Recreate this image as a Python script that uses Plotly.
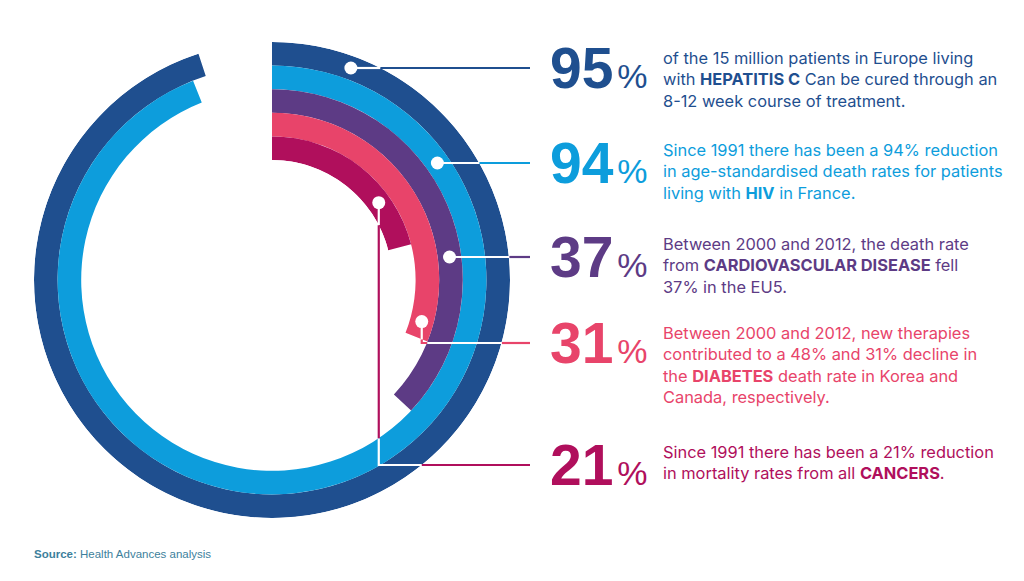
import math
import plotly.graph_objects as go

# ---------------- data (top to bottom / outer to inner) ----------------
labels = ["95", "94", "37", "31", "21"]
values = [95, 94, 37, 31, 21]
colors = ["#1f4f8f", "#0d9ddc", "#5d3b85", "#e8446a", "#b00f5c"]
descriptions = [
    "of the 15 million patients in Europe living<br>with <b>HEPATITIS C</b> Can be cured through an<br>8-12 week course of treatment.",
    "Since 1991 there has been a 94% reduction<br>in age-standardised death rates for patients<br>living with <b>HIV</b> in France.",
    "Between 2000 and 2012, the death rate<br>from <b>CARDIOVASCULAR DISEASE</b> fell<br>37% in the EU5.",
    "Between 2000 and 2012, new therapies<br>contributed to a 48% and 31% decline in<br>the <b>DIABETES</b> death rate in Korea and<br>Canada, respectively.",
    "Since 1991 there has been a 21% reduction<br>in mortality rates from all <b>CANCERS</b>.",
]
source_text = "<b>Source:</b> Health Advances analysis"

# ---------------- layout geometry (pixels) ----------------
W, H = 1024, 581
CX, CY = 272, 280          # ring centre
R_OUT, R_IN = 238, 120     # outer radius, hole radius
N = len(values)
T = (R_OUT - R_IN) / N     # ring thickness
label_y = [68, 163, 257, 343, 465]     # vertical centre of the big numbers / connector rows
desc_y = [79, 172, 265, 365, 462]
elbow_dot_angle = {3: 105.5, 4: 54.1}  # callouts that bend down to their row
LINE_END_X = 530
NUM_X = 548
DESC_X = 661
FONT = "Liberation Sans, Arial, sans-serif"
DESC_FONT = "Inter, Liberation Sans, sans-serif"

ring_index = [N - 1 - i for i in range(N)]  # outer label -> outermost ring


def px(x):
    return x / W


def py(y):
    return 1 - y / H


def on_ring(x, y):
    dx, dy = x - CX, y - CY
    r = math.hypot(dx, dy)
    if r < R_IN or r > R_OUT:
        return None
    k = min(int((r - R_IN) / T), N - 1)
    i = N - 1 - k
    ang = math.degrees(math.atan2(dx, -dy)) % 360
    if ang <= values[i] * 3.6:
        return i
    return None


fig = go.Figure()

# rings
fig.add_trace(go.Barpolar(
    r=[1] * N,
    base=[ring_index[i] for i in range(N)],
    theta=[v * 3.6 / 2 for v in values],
    width=[v * 3.6 for v in values],
    marker=dict(color=colors, line=dict(width=0)),
    hoverinfo="skip",
    showlegend=False,
))

# callout dots and connector paths
dot_r, dot_t = [], []
shapes = []
for i in range(N):
    k = ring_index[i]
    rmid = R_IN + (k + 0.5) * T
    if i in elbow_dot_angle:
        a = elbow_dot_angle[i]
    else:
        a = math.degrees(math.acos((CY - label_y[i]) / rmid))
    dot_r.append(k + 0.5)
    dot_t.append(a)
    x0 = CX + rmid * math.sin(math.radians(a))
    y0 = CY - rmid * math.cos(math.radians(a))
    path = [(x0, y0)]
    if i in elbow_dot_angle:
        path.append((x0, label_y[i]))
    else:
        path[0] = (x0, label_y[i])
    path.append((LINE_END_X, label_y[i]))
    # sample path, split into white (over rings) and coloured (over background) runs
    pts = []
    for (ax, ay), (bx, by) in zip(path[:-1], path[1:]):
        L = math.hypot(bx - ax, by - ay)
        n = max(int(L / 0.5), 1)
        for s in range(n + 1):
            p = (ax + (bx - ax) * s / n, ay + (by - ay) * s / n)
            if not pts or math.hypot(p[0] - pts[-1][0], p[1] - pts[-1][1]) > 1e-9:
                pts.append(p)
    runs = []
    for p in pts:
        c = "white" if on_ring(*p) is not None else colors[i]
        if runs and runs[-1][0] == c:
            runs[-1][1].append(p)
        else:
            if runs:
                runs[-1][1].append(p)
            runs.append([c, [p]])
    for c, seg in runs:
        corners = [seg[0]]
        for j in range(1, len(seg) - 1):
            (ax, ay), (bx, by), (cx_, cy_) = seg[j - 1], seg[j], seg[j + 1]
            if abs((bx - ax) * (cy_ - by) - (by - ay) * (cx_ - bx)) > 1e-6:
                corners.append(seg[j])
        corners.append(seg[-1])
        d = "M " + " L ".join(f"{px(x):.5f},{py(y):.5f}" for x, y in corners)
        shapes.append(dict(type="path", path=d, xref="paper", yref="paper",
                           line=dict(color=c, width=2.2), layer="above"))

fig.add_trace(go.Scatterpolar(
    r=dot_r, theta=dot_t, mode="markers",
    marker=dict(size=13, color="white", line=dict(width=0)),
    hoverinfo="skip", showlegend=False,
))

annotations = []
for i in range(N):
    annotations.append(dict(
        x=px(NUM_X), y=py(label_y[i]), xref="paper", yref="paper",
        xanchor="left", yanchor="middle", showarrow=False,
        text=(f"<b>{labels[i]}</b><span style='font-size:14px'> </span>"
              "<span style='font-size:34px'>%</span>"),
        font=dict(family=FONT, size=57, color=colors[i]),
    ))
    annotations.append(dict(
        x=px(DESC_X), y=py(desc_y[i]), xref="paper", yref="paper",
        xanchor="left", yanchor="middle", showarrow=False, align="left",
        text=descriptions[i],
        font=dict(family=DESC_FONT, size=16.4, color=colors[i]),
    ))
annotations.append(dict(
    x=px(32), y=py(554), xref="paper", yref="paper",
    xanchor="left", yanchor="middle", showarrow=False,
    text=source_text, font=dict(family=FONT, size=11.5, color="#3d7f9c"),
))

fig.update_layout(
    width=W, height=H,
    margin=dict(l=0, r=0, t=0, b=0),
    paper_bgcolor="white",
    showlegend=False,
    polar=dict(
        domain=dict(x=[(CX - R_OUT) / W, (CX + R_OUT) / W],
                    y=[1 - (CY + R_OUT) / H, 1 - (CY - R_OUT) / H]),
        hole=R_IN / R_OUT,
        bgcolor="rgba(0,0,0,0)",
        barmode="overlay",
        radialaxis=dict(range=[0, N], visible=False),
        angularaxis=dict(rotation=90, direction="clockwise", visible=False),
    ),
    shapes=shapes,
    annotations=annotations,
)

fig.write_html("out.html", config={"displayModeBar": False},
               post_script="document.body.style.margin='0';")
